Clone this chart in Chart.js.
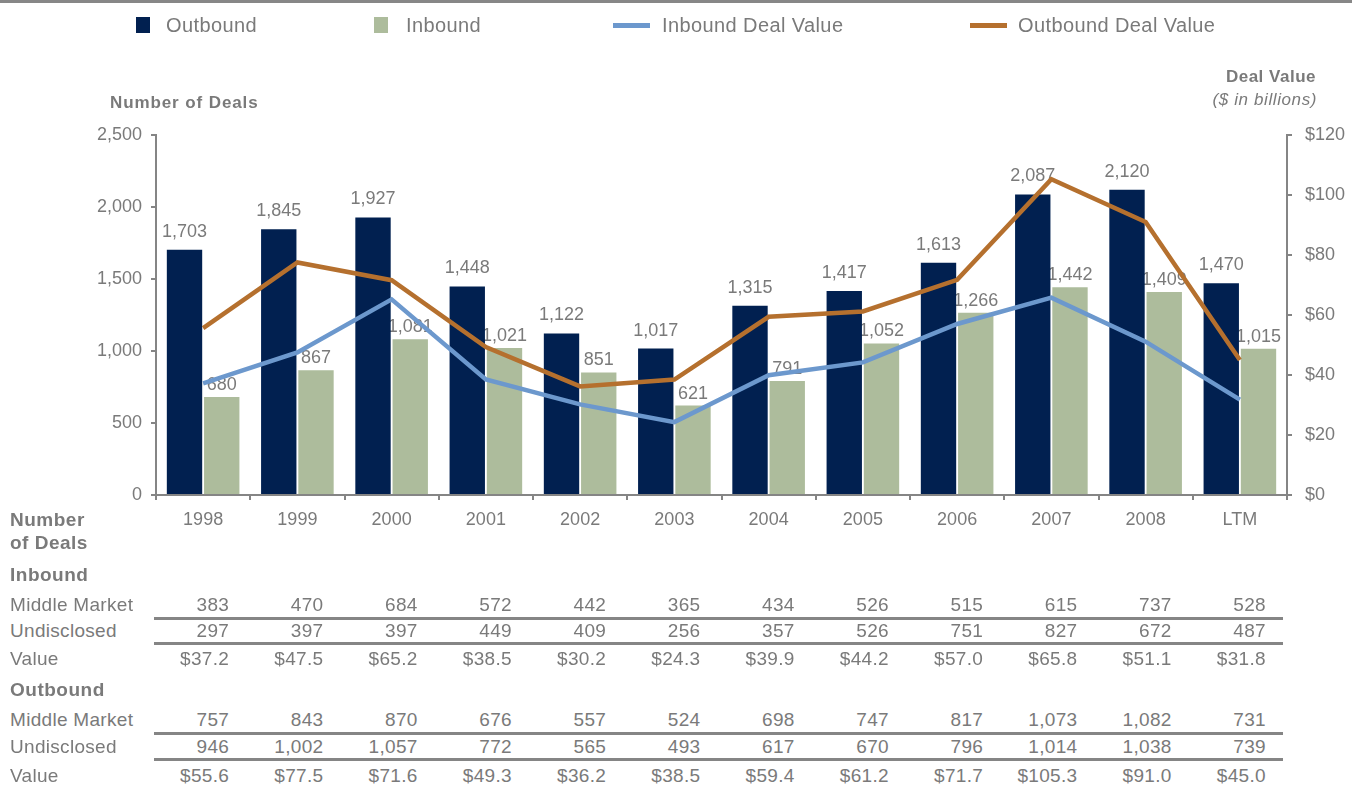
<!DOCTYPE html>
<html>
<head>
<meta charset="utf-8">
<script src="https://cdn.jsdelivr.net/npm/chart.js@4.4.1/dist/chart.umd.min.js"></script>
<style>
  body { margin: 0; background: #fff; font-family: Arial, "Liberation Sans", sans-serif; color: #7a7a7a; }
  #page { position: relative; width: 1352px; height: 786px; overflow: hidden; }
  #topbar { position: absolute; left: 0; top: 0; width: 1352px; height: 3px; background: #878787; }
  #chartBox { position: absolute; left: 0; top: 0; width: 1352px; height: 560px; }
  .abs { position: absolute; white-space: nowrap; }
  .lg { font-size: 20px; letter-spacing: 0.4px; line-height: 24px; top: 13px; }
  .sw { position: absolute; }
  .cell { font-size: 19px; letter-spacing: 0.3px; line-height: 22px; }
  .bold { font-weight: bold; letter-spacing: 0.5px; }
  .rule { position: absolute; left: 154px; width: 1129px; height: 3px; background: #858585; }
</style>
</head>
<body>
<div id="page">
  <div id="topbar"></div>
  <div id="chartBox"><canvas id="myChart"></canvas></div>

  <div class="sw" style="left:136px;top:17px;width:14px;height:16px;background:#012050"></div>
  <div class="abs lg" style="left:166px">Outbound</div>
  <div class="sw" style="left:374px;top:17px;width:14px;height:16px;background:#adbc9c"></div>
  <div class="abs lg" style="left:406px">Inbound</div>
  <div class="sw" style="left:613px;top:23px;width:37px;height:5px;background:#6c98cd"></div>
  <div class="abs lg" style="left:662px">Inbound Deal Value</div>
  <div class="sw" style="left:970px;top:23px;width:37px;height:5px;background:#b5702e"></div>
  <div class="abs lg" style="left:1018px">Outbound Deal Value</div>

  <div class="abs bold" style="left:110px;top:92px;font-size:17px;line-height:22px;letter-spacing:0.9px">Number of Deals</div>
  <div class="abs bold" style="right:36px;top:66px;font-size:17px;line-height:22px;letter-spacing:0.5px">Deal Value</div>
  <div class="abs" style="right:35px;top:89px;font-size:17px;line-height:22px;font-style:italic;letter-spacing:0.6px">($ in billions)</div>

  <div id="table"></div>
</div>
<script>
// categories
let years = ['1998', '1999', '2000', '2001', '2002', '2003', '2004', '2005', '2006', '2007', '2008', 'LTM'];

// bars: number of deals
let outboundDeals = [1703, 1845, 1927, 1448, 1122, 1017, 1315, 1417, 1613, 2087, 2120, 1470];
let inboundDeals = [680, 867, 1081, 1021, 851, 621, 791, 1052, 1266, 1442, 1409, 1015];

// table rows
let inboundMiddle = [383, 470, 684, 572, 442, 365, 434, 526, 515, 615, 737, 528];
let inboundUndisclosed = [297, 397, 397, 449, 409, 256, 357, 526, 751, 827, 672, 487];
let inboundValue = [37.2, 47.5, 65.2, 38.5, 30.2, 24.3, 39.9, 44.2, 57.0, 65.8, 51.1, 31.8];
let outboundMiddle = [757, 843, 870, 676, 557, 524, 698, 747, 817, 1073, 1082, 731];
let outboundUndisclosed = [946, 1002, 1057, 772, 565, 493, 617, 670, 796, 1014, 1038, 739];
let outboundValue = [55.6, 77.5, 71.6, 49.3, 36.2, 38.5, 59.4, 61.2, 71.7, 105.3, 91.0, 45.0];

// axis ticks
let dealTicks = [0, 500, 1000, 1500, 2000, 2500];
let valueTicks = [0, 20, 40, 60, 80, 100, 120];

const grey = '#7a7a7a';
const axisGrey = '#858585';
Chart.defaults.font.family = 'Arial, "Liberation Sans", sans-serif';
Chart.defaults.color = grey;

function fmt(n) { return n.toLocaleString('en-US'); }
function money(n) { return '$' + n.toFixed(1); }

// draw the number above each bar, right after its dataset so lines sit on top
const barLabels = {
    id: 'barLabels',
    afterDatasetDraw(chart, args) {
        let meta = args.meta;
        if (meta.type !== 'bar') return;
        let ds = chart.data.datasets[args.index];
        let c = chart.ctx;
        c.save();
        c.font = '18px Arial, "Liberation Sans", sans-serif';
        c.fillStyle = grey;
        c.textAlign = 'center';
        c.textBaseline = 'bottom';
        meta.data.forEach((bar, i) => {
            c.fillText(fmt(ds.data[i]), bar.x, bar.y - ds.labelGap);
        });
        c.restore();
    }
};

let axisGrid = {
    display: true,
    drawOnChartArea: false,
    drawTicks: true,
    tickLength: 5,
    color: axisGrey,
    lineWidth: 2
};

let ctx = document.getElementById('myChart').getContext('2d');
let myChart = new Chart(ctx, {
    type: 'bar',
    data: {
        labels: years,
        datasets: [
            {
                type: 'line',
                label: 'Outbound Deal Value',
                data: outboundValue,
                yAxisID: 'y1',
                borderColor: '#b5702e',
                borderWidth: 4.5,
                pointRadius: 0,
                tension: 0,
                order: 0
            },
            {
                type: 'line',
                label: 'Inbound Deal Value',
                data: inboundValue,
                yAxisID: 'y1',
                borderColor: '#6c98cd',
                borderWidth: 4.5,
                pointRadius: 0,
                tension: 0,
                order: 1
            },
            {
                label: 'Outbound',
                data: outboundDeals,
                yAxisID: 'y',
                backgroundColor: '#012050',
                categoryPercentage: 0.79,
                barPercentage: 0.95,
                labelGap: 9,
                order: 2
            },
            {
                label: 'Inbound',
                data: inboundDeals,
                yAxisID: 'y',
                backgroundColor: '#adbc9c',
                categoryPercentage: 0.79,
                barPercentage: 0.95,
                labelGap: 3,
                order: 3
            }
        ]
    },
    options: {
        responsive: true,
        maintainAspectRatio: false,
        animation: false,
        layout: { padding: { top: 135, left: 0, right: 0, bottom: 0 } },
        plugins: {
            legend: { display: false },
            tooltip: { enabled: false }
        },
        scales: {
            x: {
                offset: true,
                grid: Object.assign({}, axisGrid, { offset: true }),
                border: { display: true, color: axisGrey, width: 2 },
                ticks: { font: { size: 18 }, padding: 9, color: grey, maxRotation: 0 },
                afterFit(s) { s.height = 65; }
            },
            y: {
                position: 'left',
                min: 0,
                max: dealTicks[dealTicks.length - 1],
                afterBuildTicks(s) { s.ticks = dealTicks.map(v => ({ value: v })); },
                grid: axisGrid,
                border: { display: true, color: axisGrey, width: 2 },
                ticks: { font: { size: 18 }, padding: 9, color: grey, callback: v => fmt(v) },
                afterFit(s) { s.width = 156; }
            },
            y1: {
                position: 'right',
                min: 0,
                max: valueTicks[valueTicks.length - 1],
                afterBuildTicks(s) { s.ticks = valueTicks.map(v => ({ value: v })); },
                grid: axisGrid,
                border: { display: true, color: axisGrey, width: 2 },
                ticks: { font: { size: 18 }, padding: 13, color: grey, callback: v => '$' + v },
                afterFit(s) { s.width = 65; }
            }
        }
    },
    plugins: [barLabels]
});

// table below the chart, columns lined up with the x scale
let tableRows = [
    { label: 'Number', y: 520, bold: true },
    { label: 'of Deals', y: 543, bold: true },
    { label: 'Inbound', y: 575, bold: true },
    { label: 'Middle Market', y: 605, values: inboundMiddle.map(fmt), rule: 618 },
    { label: 'Undisclosed', y: 631, values: inboundUndisclosed.map(fmt), rule: 643 },
    { label: 'Value', y: 659, values: inboundValue.map(money) },
    { label: 'Outbound', y: 690, bold: true },
    { label: 'Middle Market', y: 720, values: outboundMiddle.map(fmt), rule: 733 },
    { label: 'Undisclosed', y: 747, values: outboundUndisclosed.map(fmt), rule: 759 },
    { label: 'Value', y: 776, values: outboundValue.map(money) }
];

let table = document.getElementById('table');
let xScale = myChart.scales.x;
tableRows.forEach(row => {
    let lab = document.createElement('div');
    lab.className = 'abs cell' + (row.bold ? ' bold' : '');
    lab.style.left = '10px';
    lab.style.top = (row.y - 11) + 'px';
    lab.textContent = row.label;
    table.appendChild(lab);
    if (row.values) {
        row.values.forEach((v, i) => {
            let cell = document.createElement('div');
            cell.className = 'abs cell';
            let right = xScale.getPixelForValue(i) + 26;
            cell.style.left = (right - 100) + 'px';
            cell.style.width = '100px';
            cell.style.textAlign = 'right';
            cell.style.top = (row.y - 11) + 'px';
            cell.textContent = v;
            table.appendChild(cell);
        });
    }
    if (row.rule) {
        let r = document.createElement('div');
        r.className = 'rule';
        r.style.top = (row.rule - 1) + 'px';
        table.appendChild(r);
    }
});
</script>
</body>
</html>
